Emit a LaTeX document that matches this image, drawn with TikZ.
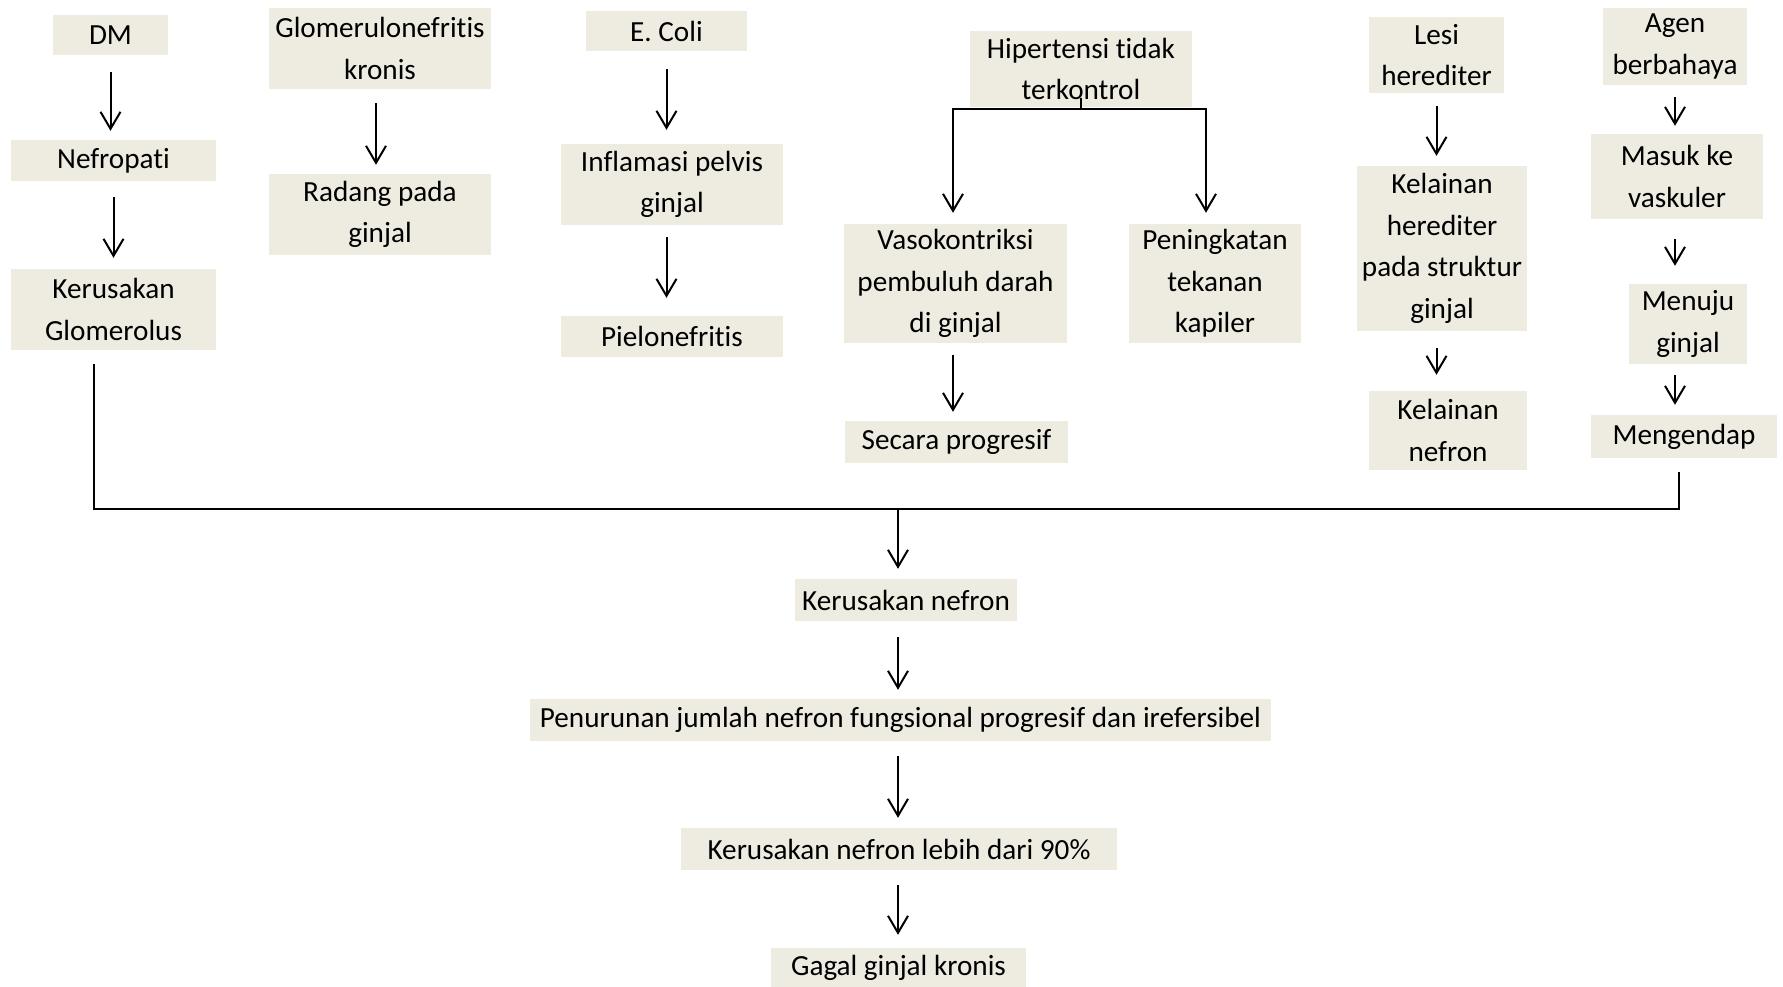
\documentclass[tikz,border=0pt]{standalone}
\usepackage{fontspec}
\setmainfont{Carlito}[Ligatures=NoCommon]
\usetikzlibrary{arrows.meta}
\definecolor{boxfill}{HTML}{EEECE1}
\begin{document}
\begin{tikzpicture}[x=1pt,y=-1pt,
 box/.style={fill=boxfill, inner sep=0pt, align=center, font=\fontsize{29.2}{41.7}\selectfont},
 arr/.style={line width=2pt, -{Straight Barb[length=17pt,width=20pt,line width=2pt]}},
 ln/.style={line width=2pt}]
\useasboundingbox (0,0) rectangle (1783,987);
\fill[white] (0,0) rectangle (1783,987);
% nodes
\node[box, minimum width=115pt, minimum height=40pt] (dm) at (110.5,35) {DM};
\node[box, minimum width=205pt, minimum height=41pt] (nef) at (113.5,160.5) {Nefropati};
\node[box, minimum width=205pt, minimum height=81pt] (kg) at (113.5,309.5) {Kerusakan\\Glomerolus};
\node[box, minimum width=222pt, minimum height=81pt] (gk) at (380,48.5) {Glomerulonefritis\\kronis};
\node[box, minimum width=222pt, minimum height=81pt] (rad) at (380,214.5) {Radang pada\\ginjal};
\node[box, minimum width=161pt, minimum height=40pt] (ec) at (666.5,31) {E. Coli};
\node[box, minimum width=222pt, minimum height=81pt] (inf) at (672,184.5) {Inflamasi pelvis\\ginjal};
\node[box, minimum width=222pt, minimum height=41pt] (pie) at (672,336.5) {Pielonefritis};
\node[box, minimum width=222pt, minimum height=76pt] (hip) at (1081,69) {Hipertensi tidak\\terkontrol};
\node[box, minimum width=223pt, minimum height=119pt] (vaso) at (955.5,283.5) {Vasokontriksi\\pembuluh darah\\di ginjal};
\node[box, minimum width=172pt, minimum height=119pt] (pen) at (1215,283.5) {Peningkatan\\tekanan\\kapiler};
\node[box, minimum width=223pt, minimum height=42pt] (sec) at (956.5,442) {Secara progresif};
\node[box, minimum width=135pt, minimum height=76pt] (lesi) at (1436.5,55) {Lesi\\herediter};
\node[box, minimum width=170pt, minimum height=165pt] (kh) at (1442,248.5) {Kelainan\\herediter\\pada struktur\\ginjal};
\node[box, minimum width=158pt, minimum height=79pt] (kn) at (1448,430.5) {Kelainan\\nefron};
\node[box, minimum width=144pt, minimum height=77pt] (agen) at (1675,46.5) {Agen\\berbahaya};
\node[box, minimum width=172pt, minimum height=85pt] (mas) at (1677,176.5) {Masuk ke\\vaskuler};
\node[box, minimum width=118pt, minimum height=80pt] (menu) at (1688,324) {Menuju\\ginjal};
\node[box, minimum width=186pt, minimum height=43pt] (meng) at (1684,436.5) {Mengendap};
\node[box, minimum width=222pt, minimum height=42pt] (kn2) at (906,600) {Kerusakan nefron};
\node[box, minimum width=741pt, minimum height=42pt] (penu) at (900.5,720) {Penurunan jumlah nefron fungsional progresif dan irefersibel};
\node[box, minimum width=436pt, minimum height=42pt] (k90) at (899,849) {Kerusakan nefron lebih dari 90\%};
\node[box, minimum width=255pt, minimum height=40pt] (gg) at (898.5,968) {Gagal ginjal kronis};
% connectors
\draw[arr, shorten <=17pt, shorten >=9pt] (dm.south) -- (dm.south |- nef.north);
\draw[arr, shorten <=16pt, shorten >=11pt] (nef.south) -- (nef.south |- kg.north);
\draw[arr, shorten <=14pt, shorten >=9pt] ([xshift=-4pt]gk.south) -- ([xshift=-4pt]gk.south |- rad.north);
\draw[arr, shorten <=18pt, shorten >=14pt] (ec.south) -- (ec.south |- inf.north);
\draw[arr, shorten <=12pt, shorten >=18pt] (inf.south -| ec.south) -- (pie.north -| ec.south);
\draw[ln] ([yshift=9pt]hip.south) -- ([yshift=-2pt]hip.south);
\draw[arr, shorten >=11pt] ([yshift=-2pt]hip.south) -| ([xshift=-2.5pt]vaso.north);
\draw[arr, shorten >=11pt] ([yshift=-2pt]hip.south) -| ([xshift=-9pt]pen.north);
\draw[arr, shorten <=12pt, shorten >=9pt] ([xshift=-2.5pt]vaso.south) -- ([xshift=-2.5pt]vaso.south |- sec.north);
\draw[arr, shorten <=13pt, shorten >=10pt] (lesi.south) -- (lesi.south |- kh.north);
\draw[arr, shorten <=17pt, shorten >=16pt] (kh.south -| lesi.south) -- (kn.north -| lesi.south);
\draw[arr, shorten <=12pt, shorten >=8pt] (agen.south) -- (agen.south |- mas.north);
\draw[arr, shorten <=20pt, shorten >=18pt] (mas.south -| agen.south) -- (menu.north -| agen.south);
\draw[arr, shorten <=11pt, shorten >=10pt] (menu.south -| agen.south) -- (meng.north -| agen.south);
\coordinate (ml) at (94,509);
\coordinate (mr) at (1679,509);
\coordinate (mc) at (898,509);
\draw[ln] ([yshift=-14pt]kg.south -| ml) -- (ml) -- (mr) -- ([yshift=-14pt]meng.south -| mr);
\draw[arr, shorten >=10pt] (mc) -- (mc |- kn2.north);
\draw[arr, shorten <=16pt, shorten >=9pt] (kn2.south -| mc) -- (penu.north -| mc);
\draw[arr, shorten <=15pt, shorten >=10pt] (penu.south -| mc) -- (k90.north -| mc);
\draw[arr, shorten <=15pt, shorten >=13pt] (k90.south -| mc) -- (gg.north -| mc);
\end{tikzpicture}
\end{document}
